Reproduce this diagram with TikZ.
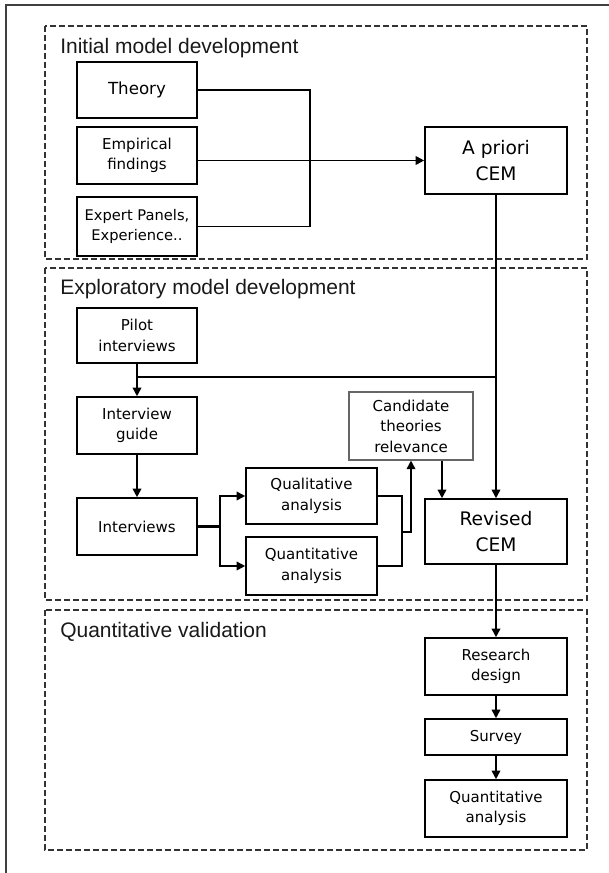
\documentclass[tikz,border=0pt]{standalone}
\usepackage{fontspec}
\setmainfont{DejaVu Sans}
\newfontfamily\stagefont{Liberation Sans}
\usetikzlibrary{arrows.meta}

\begin{document}
\begin{tikzpicture}[
  x=0.75pt,
  y=-0.75pt,
  stage frame/.style={
    draw,
    black!80,
    dash pattern=on 4.5pt off 2.25pt,
    line width=0.9pt
  },
  stage title/.style={
    anchor=base west,
    inner sep=0pt,
    text=black!90,
    font=\stagefont\fontsize{15.75}{18}\selectfont
  },
  flow box/.style={
    draw,
    line width=1.2pt,
    align=center,
    inner sep=0pt,
    minimum width=90pt,
    minimum height=42.75pt,
    text=black,
    font=\fontsize{11.25}{15.4}\selectfont
  },
  cem box/.style={
    flow box,
    minimum width=106.5pt,
    font=\fontsize{14}{20}\selectfont
  },
  flow line/.style={
    draw,
    line width=1.3pt
  },
  flow arrow/.style={
    flow line,
    -{Triangle[length=6.5pt,width=6.5pt]}
  },
]
\useasboundingbox (0,0) rectangle (608,873);
\draw[line width=1.4pt, black!75] (6,5) rectangle (640,900);

\draw[stage frame] (45,26) rectangle (587,259);
\draw[stage frame] (45,268) rectangle (587,600);
\draw[stage frame] (45,610) rectangle (587,850);
\node[stage title] (initial) at (60,54) {Initial model development};
\node[stage title] (exploratory) at (60,294.5) {Exploratory model development};
\node[stage title] (validation) at (60,637) {Quantitative validation};

\node[flow box, minimum height=42pt, font=\fontsize{12.5}{16}\selectfont] (theory) at (137,90) {Theory};
\node[flow box] (empirical) at (137,155.5) {Empirical\\findings};
\node[flow box, minimum height=44.25pt, font=\fontsize{11}{15.4}\selectfont] (expert) at (137,226.5) {Expert Panels,\\Experience..};
\node[cem box, minimum height=50.25pt] (apriori) at (496,160.5) {A priori\\CEM};

\node[flow box, minimum height=41.25pt] (pilot) at (137,335.5) {Pilot\\interviews};
\node[flow box] (guide) at (137,425.5) {Interview\\guide};
\node[flow box] (interviews) at (137,526.5) {Interviews};
\node[flow box, minimum width=98.25pt, minimum height=42pt] (qual) at (311.5,496) {Qualitative\\analysis};
\node[flow box, minimum width=98.25pt, minimum height=43.5pt] (quant) at (311.5,566) {Quantitative\\analysis};
\node[flow box, draw=black!60, line width=0.8pt, minimum width=93pt, minimum height=51pt] (candidate) at (411,426) {Candidate\\theories\\relevance};
\node[cem box, minimum height=48.75pt] (revised) at (496,531.5) {Revised\\CEM};

\node[flow box, minimum width=106.5pt] (research) at (496,666.5) {Research\\design};
\node[flow box, minimum width=106.5pt, minimum height=27pt] (survey) at (496,737) {Survey};
\node[flow box, minimum width=106.5pt] (quanta) at (496,808.5) {Quantitative\\analysis};

\coordinate (collect) at (310,161);
\coordinate (split) at (496,377);
\coordinate (fork) at (220,526.5);
\coordinate (merge) at (402,532);

\draw[flow line] (theory.east) -| (collect) |- (expert.east);
\draw[flow arrow] (empirical.east |- apriori.west) -- (apriori.west);
\draw[flow arrow] (apriori) -- (revised);
\draw[flow line] (split) -- (split -| pilot.south);
\draw[flow arrow] (pilot) -- (guide);
\draw[flow arrow] (guide) -- (interviews);
\draw[flow line, line width=2pt] (interviews) -- (fork);
\draw[flow arrow] (fork) |- (qual);
\draw[flow arrow] (fork) |- (quant);
\draw[flow line] (qual) -| (merge) |- (quant);
\draw[flow arrow] (merge) -| (candidate);
\draw[flow arrow] ([xshift=23.25pt]candidate.south) -- ([xshift=23.25pt]candidate.south |- revised.north);
\draw[flow arrow] (revised) -- (research);
\draw[flow arrow] (research) -- (survey);
\draw[flow arrow] (survey) -- (quanta);
\end{tikzpicture}
\end{document}
